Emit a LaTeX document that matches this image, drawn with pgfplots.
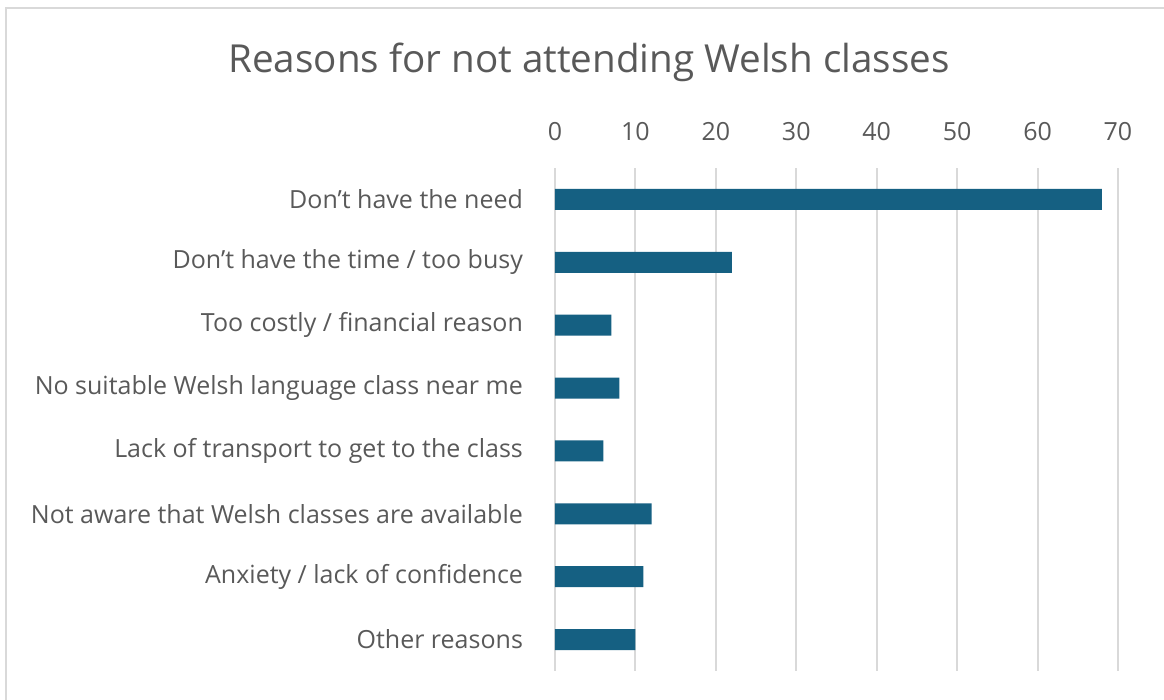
\documentclass[border=0pt]{standalone}
\usepackage{pgfplots}
\pgfplotsset{compat=1.18}
\usepackage{fontspec}
\setmainfont{Open Sans}
\definecolor{barblue}{HTML}{156082}
\definecolor{txtgrey}{HTML}{595959}
\definecolor{gridgrey}{HTML}{D9D9D9}
\begin{document}
\begin{tikzpicture}
\path[use as bounding box] (0,0) rectangle (582pt,350pt);
\draw[gridgrey, line width=1pt] (3pt,0) -- (3pt,346pt) -- (582pt,346pt);
\node[txtgrey, font=\fontsize{19.3}{23}\selectfont] at (294.5pt,319pt) {Reasons for not attending Welsh classes};
\begin{axis}[
  at={(277.5pt,14.5pt)}, anchor=south west,
  scale only axis, width=281.5pt, height=251.5pt,
  xmin=0, xmax=70, xtick={0,10,...,70},
  ymin=-0.5, ymax=7.5, y dir=reverse,
  ytick={0,...,7},
  yticklabels={Don’t have the need, Don’t have the time / too busy, Too costly / financial reason, No suitable Welsh language class near me, Lack of transport to get to the class, Not aware that Welsh classes are available, Anxiety / lack of confidence, Other reasons},
  xticklabel pos=upper,
  axis line style={draw=none},
  major tick length=0pt,
  xmajorgrids, grid style={gridgrey, line width=1pt},
  tick label style={txtgrey, font=\fontsize{12.5}{15}\selectfont},
  xticklabel style={yshift=10pt},
  yticklabel style={xshift=-12.5pt},
  /pgf/number format/assume math mode=true,
  clip=false,
]
\addplot[xbar, bar width=10.5pt, fill=barblue, draw=none] coordinates {
(68,0) (22,1) (7,2) (8,3) (6,4) (12,5) (11,6) (10,7)
};
\end{axis}
\end{tikzpicture}
\end{document}
